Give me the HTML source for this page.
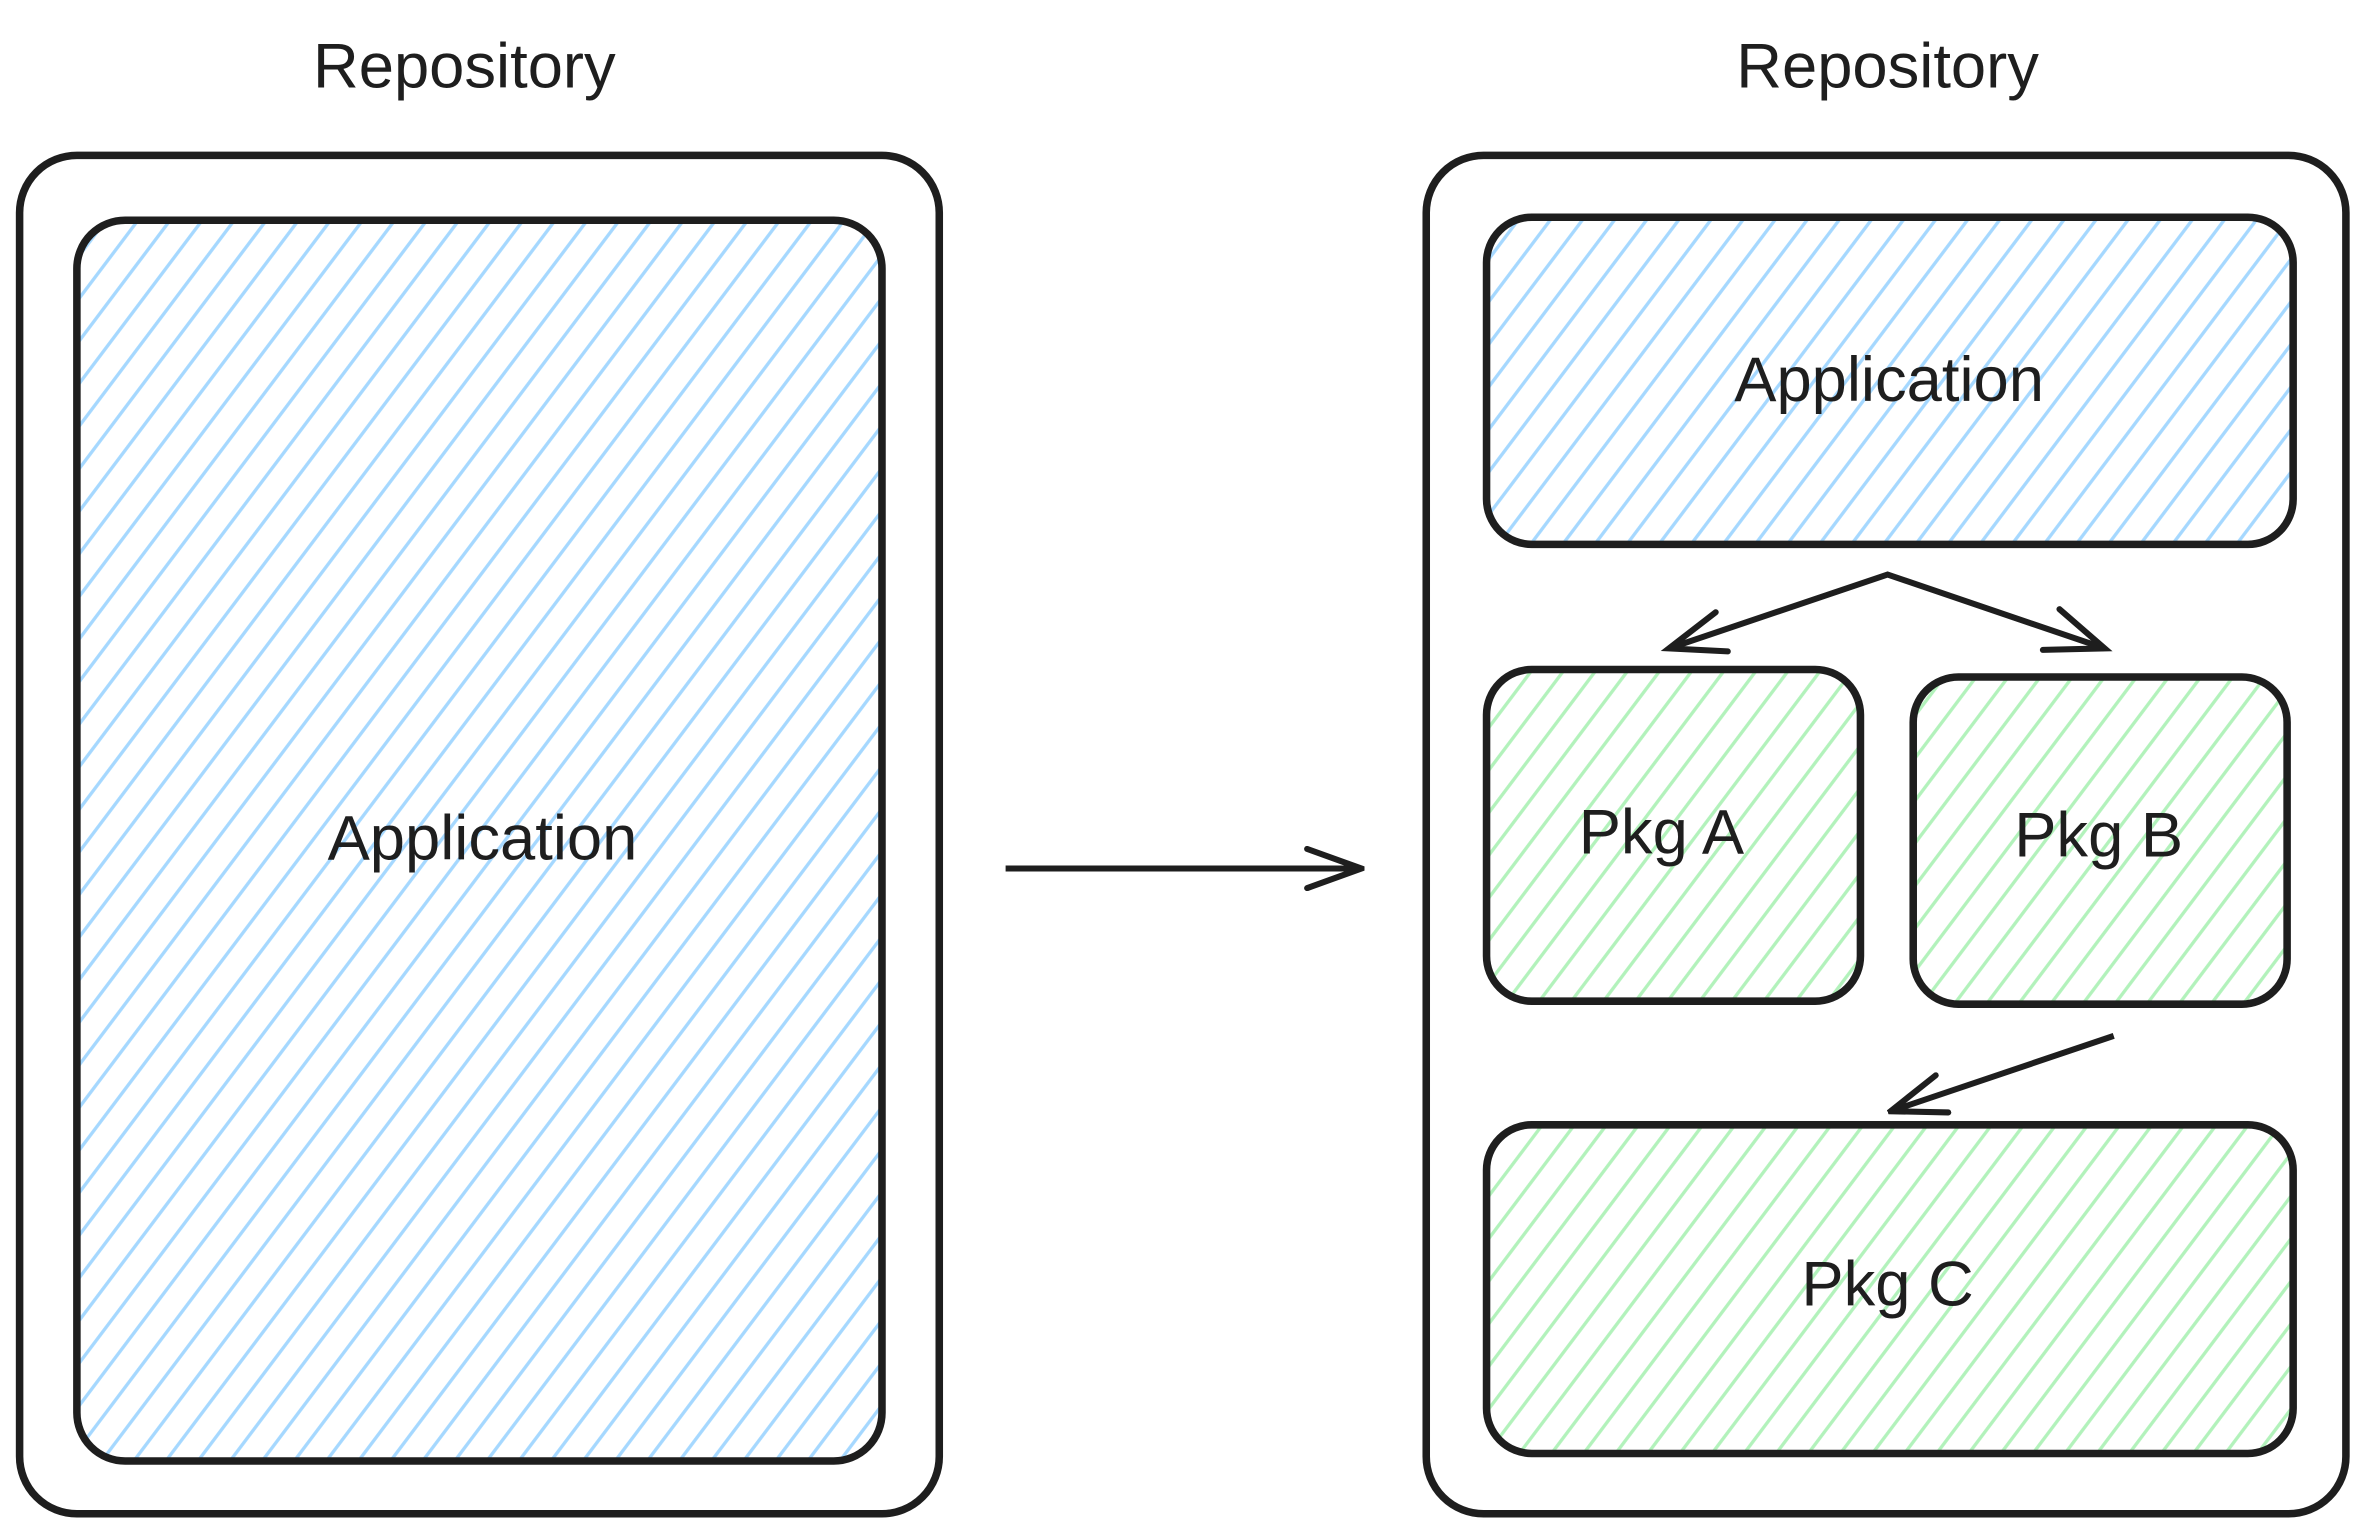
<!DOCTYPE html>
<html><head><style>
html,body{margin:0;padding:0;background:#fff;}
svg{display:block;}
text{font-family:"Liberation Sans",sans-serif;fill:#1e1e1e;text-anchor:middle;}
</style></head><body>
<svg width="2364" height="1535" viewBox="0 0 1568 1018" xmlns="http://www.w3.org/2000/svg">
<defs>
<pattern id="hb" width="17" height="17" patternUnits="userSpaceOnUse" patternTransform="rotate(37)">
<line x1="8" y1="0" x2="8" y2="17" stroke="#a5d8ff" stroke-width="2.2"/>
</pattern>
<pattern id="hg" width="17" height="17" patternUnits="userSpaceOnUse" patternTransform="rotate(37)">
<line x1="8" y1="0" x2="8" y2="17" stroke="#b2f2bb" stroke-width="2.2"/>
</pattern>
<marker id="ar" viewBox="0 0 40 30" refX="38" refY="15" markerWidth="40" markerHeight="30" markerUnits="userSpaceOnUse" orient="auto">
<path d="M2,2 L38,15 L2,28" fill="none" stroke="#1e1e1e" stroke-width="4" stroke-linecap="round"/>
</marker>
</defs>
<g stroke="#1e1e1e" stroke-width="5" fill="none">
<rect x="13" y="103" width="610" height="901" rx="38"/>
<rect x="51" y="146" width="534" height="823" rx="32" fill="url(#hb)"/>
<rect x="946" y="103" width="610" height="901" rx="38"/>
<rect x="986" y="144" width="535" height="217" rx="30" fill="url(#hb)"/>
<rect x="986" y="444" width="248" height="220" rx="30" fill="url(#hg)"/>
<rect x="1269" y="449" width="248" height="217" rx="30" fill="url(#hg)"/>
<rect x="986" y="746" width="535" height="218" rx="30" fill="url(#hg)"/>
<line x1="667" y1="576" x2="903" y2="576" marker-end="url(#ar)" stroke-width="4"/>
<polyline points="1107,430 1252,381 1396,430" stroke-width="4"/>
<path d="M1138,406 L1107,430 L1146,432" stroke-width="4" stroke-linecap="round"/>
<path d="M1366,404 L1396,430 L1355,431" stroke-width="4" stroke-linecap="round"/>
<line x1="1402" y1="687" x2="1254" y2="737" marker-end="url(#ar)" stroke-width="4"/>
</g>
<text x="308" y="58" font-size="42">Repository</text>
<text x="1252" y="58" font-size="42">Repository</text>
<text x="320" y="570" font-size="42">Application</text>
<text x="1253" y="266" font-size="42">Application</text>
<text x="1102" y="566" font-size="42">Pkg A</text>
<text x="1392" y="568" font-size="42">Pkg B</text>
<text x="1252" y="866" font-size="42">Pkg C</text>
</svg>
</body></html>
